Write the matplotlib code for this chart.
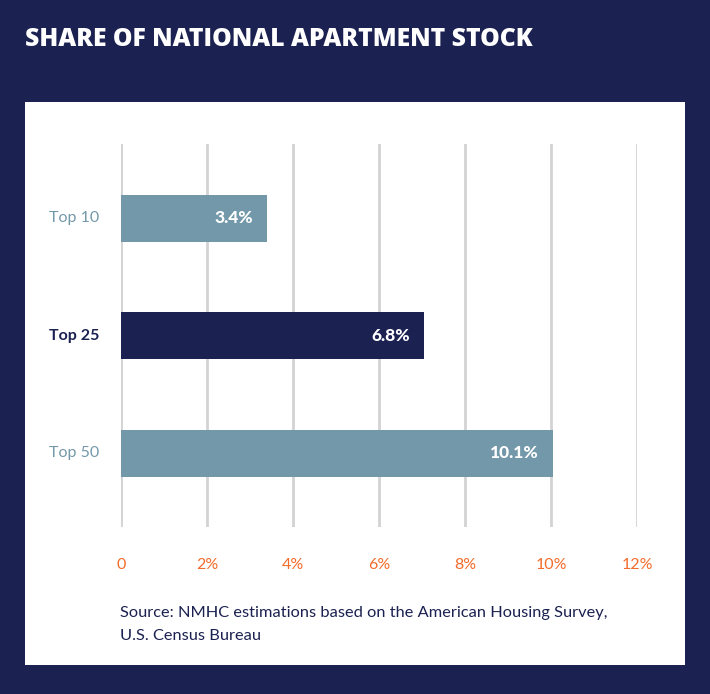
import matplotlib
matplotlib.use("Agg")
import matplotlib.pyplot as plt
from matplotlib.patches import Rectangle

categories = ["Top 10", "Top 25", "Top 50"]
values = [3.4, 7.05, 10.05]
value_labels = ["3.4%", "6.8%", "10.1%"]
xticks = [0, 2, 4, 6, 8, 10, 12]
xtick_labels = ["0", "2%", "4%", "6%", "8%", "10%", "12%"]

NAVY = "#1B2150"
TEAL = "#7398A9"
ORANGE = "#F26B2A"
GRID = "#D3D3D3"
bar_colors = [TEAL, NAVY, TEAL]
label_colors = [TEAL, NAVY, TEAL]

W, H = 710, 694
fig = plt.figure(figsize=(W / 100, H / 100), dpi=100)
fig.patch.set_facecolor(NAVY)

# white panel
fig.add_artist(Rectangle((25 / W, 1 - 665 / H), 660 / W, 563 / H,
                         transform=fig.transFigure, facecolor="white",
                         edgecolor="none", zorder=0))

fig.text(25 / W, 1 - 40 / H, "SHARE OF NATIONAL APARTMENT STOCK",
         color="white", fontsize=17.8, fontweight=800, family="Open Sans",
         va="center", ha="left")

ax = fig.add_axes([121 / W, 1 - 527 / H, 516 / W, 383 / H])
ax.set_facecolor("none")
ypos = list(range(len(categories)))
ax.barh(ypos, values, height=0.4, color=bar_colors, zorder=3)
for i, (v, lab) in enumerate(zip(values, value_labels)):
    ax.text(v - 0.33, i, lab, color="white", fontsize=12.5, fontweight="black",
            family="Lato", ha="right", va="center", zorder=4)

ax.set_xlim(0, 12)
ax.set_ylim(2.63, -0.634)
ax.set_xticks(xticks)
ax.set_xticklabels([])
ax.tick_params(length=0)
ax.set_yticks([])
for x in xticks:
    ax.axvline(x, color=GRID, lw=2, zorder=1)
for s in ax.spines.values():
    s.set_visible(False)

for x, lab in zip(xticks, xtick_labels):
    ax.annotate(lab, xy=(x, 0), xycoords=("data", "axes fraction"),
                xytext=(0, -38), textcoords="offset pixels",
                ha="center", va="center", color=ORANGE, fontsize=11.5,
                family="Lato")

for i, (c, col) in enumerate(zip(categories, label_colors)):
    ax.annotate(c, xy=(0, i), xycoords="data", xytext=(-22, 0),
                textcoords="offset pixels", ha="right", va="center",
                color=col, fontsize=11.5, family="Lato",
                fontweight="bold" if col == NAVY else "normal")

fig.text(120 / W, 1 - 613 / H,
         "Source: NMHC estimations based on the American Housing Survey,",
         color=NAVY, fontsize=11.8, family="Lato", va="center", ha="left")
fig.text(120 / W, 1 - 636 / H, "U.S. Census Bureau",
         color=NAVY, fontsize=11.8, family="Lato", va="center", ha="left")

fig.savefig("out.png", dpi=100, facecolor=NAVY)
